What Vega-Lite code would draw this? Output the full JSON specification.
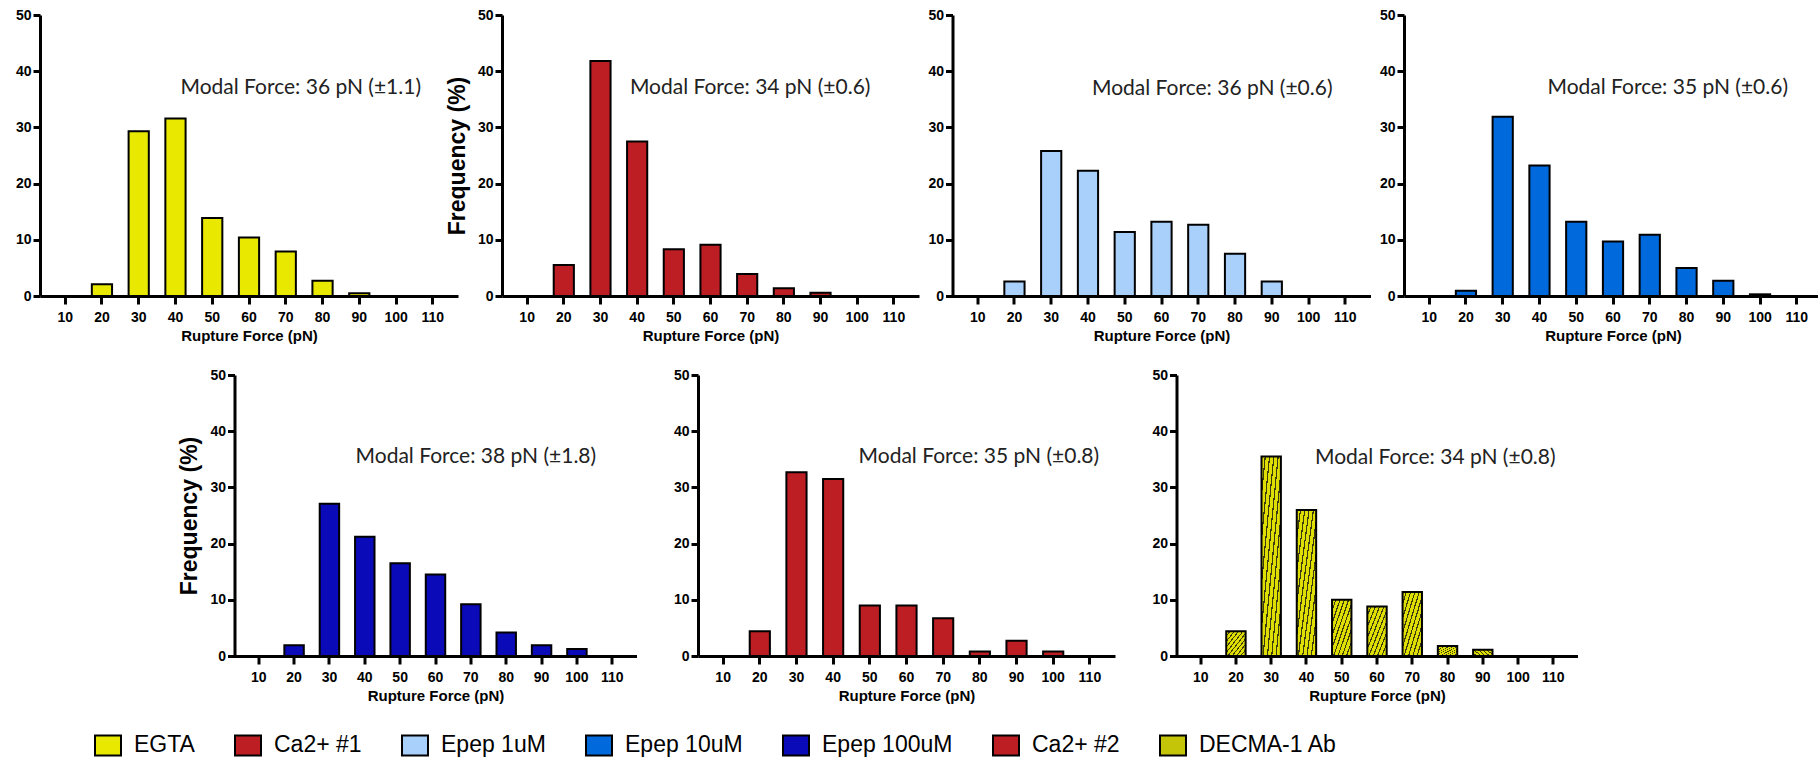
{
  "$schema": "https://vega.github.io/schema/vega-lite/v6.json",
  "padding": {"left": 15, "top": 8, "right": 0, "bottom": 0},
  "background": "white",
  "config": {
    "view": {"stroke": null},
    "axis": {"domainColor": "black", "domainWidth": 3, "tickColor": "black", "tickWidth": 3, "tickSize": 8, "labelFont": "Liberation Sans", "labelFontWeight": "bold", "labelFontSize": 14, "labelColor": "black", "labelPadding": 6, "titleFont": "Liberation Sans", "titleFontWeight": "bold", "titleFontSize": 15, "titleColor": "black", "grid": false},
    "axisX": {"labelAngle": 0, "titlePadding": 4},
    "axisY": {"titleFontSize": 23, "titlePadding": 8, "tickSize": 7, "labelPadding": 2}
  },
  "datasets": {
    "hist": [
      {"series": "EGTA", "force": 20, "freq": 2.1}, {"series": "EGTA", "force": 30, "freq": 29.3}, {"series": "EGTA", "force": 40, "freq": 31.6}, {"series": "EGTA", "force": 50, "freq": 13.9}, {"series": "EGTA", "force": 60, "freq": 10.4}, {"series": "EGTA", "force": 70, "freq": 7.9}, {"series": "EGTA", "force": 80, "freq": 2.7}, {"series": "EGTA", "force": 90, "freq": 0.5},
      {"series": "Ca2+ #1", "force": 20, "freq": 5.5}, {"series": "Ca2+ #1", "force": 30, "freq": 41.8}, {"series": "Ca2+ #1", "force": 40, "freq": 27.5}, {"series": "Ca2+ #1", "force": 50, "freq": 8.3}, {"series": "Ca2+ #1", "force": 60, "freq": 9.1}, {"series": "Ca2+ #1", "force": 70, "freq": 3.9}, {"series": "Ca2+ #1", "force": 80, "freq": 1.4}, {"series": "Ca2+ #1", "force": 90, "freq": 0.6},
      {"series": "Epep 1uM", "force": 20, "freq": 2.6}, {"series": "Epep 1uM", "force": 30, "freq": 25.8}, {"series": "Epep 1uM", "force": 40, "freq": 22.3}, {"series": "Epep 1uM", "force": 50, "freq": 11.4}, {"series": "Epep 1uM", "force": 60, "freq": 13.2}, {"series": "Epep 1uM", "force": 70, "freq": 12.7}, {"series": "Epep 1uM", "force": 80, "freq": 7.5}, {"series": "Epep 1uM", "force": 90, "freq": 2.6},
      {"series": "Epep 10uM", "force": 20, "freq": 0.95}, {"series": "Epep 10uM", "force": 30, "freq": 31.9}, {"series": "Epep 10uM", "force": 40, "freq": 23.2}, {"series": "Epep 10uM", "force": 50, "freq": 13.2}, {"series": "Epep 10uM", "force": 60, "freq": 9.7}, {"series": "Epep 10uM", "force": 70, "freq": 10.9}, {"series": "Epep 10uM", "force": 80, "freq": 5.0}, {"series": "Epep 10uM", "force": 90, "freq": 2.7}, {"series": "Epep 10uM", "force": 100, "freq": 0.3},
      {"series": "Epep 100uM", "force": 20, "freq": 1.9}, {"series": "Epep 100uM", "force": 30, "freq": 27.1}, {"series": "Epep 100uM", "force": 40, "freq": 21.2}, {"series": "Epep 100uM", "force": 50, "freq": 16.5}, {"series": "Epep 100uM", "force": 60, "freq": 14.5}, {"series": "Epep 100uM", "force": 70, "freq": 9.2}, {"series": "Epep 100uM", "force": 80, "freq": 4.2}, {"series": "Epep 100uM", "force": 90, "freq": 1.9}, {"series": "Epep 100uM", "force": 100, "freq": 1.25},
      {"series": "Ca2+ #2", "force": 20, "freq": 4.4}, {"series": "Ca2+ #2", "force": 30, "freq": 32.7}, {"series": "Ca2+ #2", "force": 40, "freq": 31.5}, {"series": "Ca2+ #2", "force": 50, "freq": 9.0}, {"series": "Ca2+ #2", "force": 60, "freq": 9.0}, {"series": "Ca2+ #2", "force": 70, "freq": 6.7}, {"series": "Ca2+ #2", "force": 80, "freq": 0.8}, {"series": "Ca2+ #2", "force": 90, "freq": 2.7}, {"series": "Ca2+ #2", "force": 100, "freq": 0.8},
      {"series": "DECMA-1 Ab", "force": 20, "freq": 4.4}, {"series": "DECMA-1 Ab", "force": 30, "freq": 35.5}, {"series": "DECMA-1 Ab", "force": 40, "freq": 26.0}, {"series": "DECMA-1 Ab", "force": 50, "freq": 10.0}, {"series": "DECMA-1 Ab", "force": 60, "freq": 8.8}, {"series": "DECMA-1 Ab", "force": 70, "freq": 11.4}, {"series": "DECMA-1 Ab", "force": 80, "freq": 1.8}, {"series": "DECMA-1 Ab", "force": 90, "freq": 1.1}
    ]
  },
  "data": {"name": "hist"},
  "bounds": "flush",
  "spacing": 360,
  "resolve": {"scale": {"fill": "shared", "x": "independent", "y": "independent"}, "legend": {"fill": "shared"}},
  "vconcat": [
    {
      "bounds": "flush",
      "spacing": 44,
      "resolve": {"scale": {"fill": "shared", "x": "independent", "y": "independent"}, "legend": {"fill": "shared"}},
      "hconcat": [
        {"width": 418, "height": 281, "layer": [
          {"transform": [{"filter": "datum.series === 'EGTA'"}], "mark": {"type": "bar", "stroke": "black", "strokeWidth": 2},
           "encoding": {
             "x": {"field": "force", "type": "ordinal", "scale": {"domain": [10, 20, 30, 40, 50, 60, 70, 80, 90, 100, 110], "paddingInner": 0.45, "paddingOuter": 0.41}, "axis": {"title": "Rupture Force (pN)"}},
             "y": {"field": "freq", "type": "quantitative", "scale": {"domain": [0, 50], "nice": false}, "axis": {"values": [0, 10, 20, 30, 40, 50], "title": null}},
             "fill": {"field": "series", "type": "nominal", "scale": {"domain": ["EGTA", "Ca2+ #1", "Epep 1uM", "Epep 10uM", "Epep 100uM", "Ca2+ #2", "DECMA-1 Ab"], "range": ["#e8e800", "#bc1e24", "#a8d0fa", "#0069dc", "#0a0ab8", "#bc1e24", "#c4c408"]},
               "legend": {"title": null, "orient": "none", "legendX": 54, "legendY": 716, "direction": "horizontal", "columns": 7, "symbolType": "M-1,-0.77H1V0.77H-1Z", "symbolSize": 676, "symbolStrokeColor": "black", "symbolStrokeWidth": 2, "symbolOpacity": 1, "labelFont": "Liberation Sans", "labelFontSize": 23, "labelColor": "black", "labelOffset": 12, "columnPadding": 36, "labelLimit": 400}}
           }},
          {"data": {"values": [{}]}, "mark": {"type": "text", "font": "Lato", "fontSize": 21, "baseline": "middle", "align": "center", "dx": 15, "color": "#222"},
           "encoding": {"x": {"datum": 70, "type": "ordinal"}, "y": {"datum": 37, "type": "quantitative"}, "text": {"value": "Modal Force: 36 pN (±1.1)"}}}
        ]},
        {
          "bounds": "flush",
          "spacing": 33.5,
          "resolve": {"scale": {"fill": "shared", "x": "independent", "y": "independent"}, "legend": {"fill": "shared"}},
          "hconcat": [
            {"width": 417, "height": 281, "layer": [
              {"transform": [{"filter": "datum.series === 'Ca2+ #1'"}], "mark": {"type": "bar", "stroke": "black", "strokeWidth": 2},
               "encoding": {
                 "x": {"field": "force", "type": "ordinal", "scale": {"domain": [10, 20, 30, 40, 50, 60, 70, 80, 90, 100, 110], "paddingInner": 0.45, "paddingOuter": 0.41}, "axis": {"title": "Rupture Force (pN)"}},
                 "y": {"field": "freq", "type": "quantitative", "scale": {"domain": [0, 50], "nice": false}, "axis": {"values": [0, 10, 20, 30, 40, 50], "title": "Frequency (%)"}},
                 "fill": {"field": "series", "type": "nominal"}
               }},
              {"data": {"values": [{}]}, "mark": {"type": "text", "font": "Lato", "fontSize": 21, "baseline": "middle", "align": "center", "dx": 3, "color": "#222"},
               "encoding": {"x": {"datum": 70, "type": "ordinal"}, "y": {"datum": 37, "type": "quantitative"}, "text": {"value": "Modal Force: 34 pN (±0.6)"}}}
            ]},
            {"width": 418, "height": 281, "layer": [
              {"transform": [{"filter": "datum.series === 'Epep 1uM'"}], "mark": {"type": "bar", "stroke": "black", "strokeWidth": 2},
               "encoding": {
                 "x": {"field": "force", "type": "ordinal", "scale": {"domain": [10, 20, 30, 40, 50, 60, 70, 80, 90, 100, 110], "paddingInner": 0.45, "paddingOuter": 0.41}, "axis": {"title": "Rupture Force (pN)"}},
                 "y": {"field": "freq", "type": "quantitative", "scale": {"domain": [0, 50], "nice": false}, "axis": {"values": [0, 10, 20, 30, 40, 50], "title": null}},
                 "fill": {"field": "series", "type": "nominal"}
               }},
              {"data": {"values": [{}]}, "mark": {"type": "text", "font": "Lato", "fontSize": 21, "baseline": "middle", "align": "center", "dx": 14, "color": "#222"},
               "encoding": {"x": {"datum": 70, "type": "ordinal"}, "y": {"datum": 36.9, "type": "quantitative"}, "text": {"value": "Modal Force: 36 pN (±0.6)"}}}
            ]},
            {"width": 418, "height": 281, "layer": [
              {"transform": [{"filter": "datum.series === 'Epep 10uM'"}], "mark": {"type": "bar", "stroke": "black", "strokeWidth": 2},
               "encoding": {
                 "x": {"field": "force", "type": "ordinal", "scale": {"domain": [10, 20, 30, 40, 50, 60, 70, 80, 90, 100, 110], "paddingInner": 0.45, "paddingOuter": 0.41}, "axis": {"title": "Rupture Force (pN)"}},
                 "y": {"field": "freq", "type": "quantitative", "scale": {"domain": [0, 50], "nice": false}, "axis": {"values": [0, 10, 20, 30, 40, 50], "title": null}},
                 "fill": {"field": "series", "type": "nominal"}
               }},
              {"data": {"values": [{}]}, "mark": {"type": "text", "font": "Lato", "fontSize": 21, "baseline": "middle", "align": "center", "dx": 18, "color": "#222"},
               "encoding": {"x": {"datum": 70, "type": "ordinal"}, "y": {"datum": 37, "type": "quantitative"}, "text": {"value": "Modal Force: 35 pN (±0.6)"}}}
            ]}
          ]
        }
      ]
    },
    {
      "bounds": "flush",
      "spacing": 61.5,
      "resolve": {"scale": {"fill": "shared", "x": "independent", "y": "independent"}, "legend": {"fill": "shared"}},
      "hconcat": [
        {"width": 133, "height": 281, "data": {"values": []}, "mark": "point"},
        {"width": 402, "height": 281, "layer": [
          {"transform": [{"filter": "datum.series === 'Epep 100uM'"}], "mark": {"type": "bar", "stroke": "black", "strokeWidth": 2},
           "encoding": {
             "x": {"field": "force", "type": "ordinal", "scale": {"domain": [10, 20, 30, 40, 50, 60, 70, 80, 90, 100, 110], "paddingInner": 0.45, "paddingOuter": 0.41}, "axis": {"title": "Rupture Force (pN)"}},
             "y": {"field": "freq", "type": "quantitative", "scale": {"domain": [0, 50], "nice": false}, "axis": {"values": [0, 10, 20, 30, 40, 50], "title": "Frequency (%)"}},
             "fill": {"field": "series", "type": "nominal"}
           }},
          {"data": {"values": [{}]}, "mark": {"type": "text", "font": "Lato", "fontSize": 21, "baseline": "middle", "align": "center", "dx": 5, "color": "#222"},
           "encoding": {"x": {"datum": 70, "type": "ordinal"}, "y": {"datum": 35.4, "type": "quantitative"}, "text": {"value": "Modal Force: 38 pN (±1.8)"}}}
        ]},
        {"width": 417, "height": 281, "layer": [
          {"transform": [{"filter": "datum.series === 'Ca2+ #2'"}], "mark": {"type": "bar", "stroke": "black", "strokeWidth": 2},
           "encoding": {
             "x": {"field": "force", "type": "ordinal", "scale": {"domain": [10, 20, 30, 40, 50, 60, 70, 80, 90, 100, 110], "paddingInner": 0.45, "paddingOuter": 0.41}, "axis": {"title": "Rupture Force (pN)"}},
             "y": {"field": "freq", "type": "quantitative", "scale": {"domain": [0, 50], "nice": false}, "axis": {"values": [0, 10, 20, 30, 40, 50], "title": null}},
             "fill": {"field": "series", "type": "nominal"}
           }},
          {"data": {"values": [{}]}, "mark": {"type": "text", "font": "Lato", "fontSize": 21, "baseline": "middle", "align": "center", "dx": -1, "color": "#222"},
           "encoding": {"x": {"datum": 80, "type": "ordinal"}, "y": {"datum": 35.4, "type": "quantitative"}, "text": {"value": "Modal Force: 35 pN (±0.8)"}}}
        ]},
        {"width": 401, "height": 281, "layer": [
          {"transform": [{"filter": "datum.series === 'DECMA-1 Ab'"}], "mark": {"type": "bar", "stroke": "black", "strokeWidth": 2, "fill": {"gradient": "linear", "x1": 0, "y1": 0, "x2": 1, "y2": 1, "stops": [{"offset": 0, "color": "#dede00"}, {"offset": 0.08, "color": "#dede00"}, {"offset": 0.08, "color": "#3c3c10"}, {"offset": 0.111, "color": "#3c3c10"}, {"offset": 0.111, "color": "#dede00"}, {"offset": 0.191, "color": "#dede00"}, {"offset": 0.191, "color": "#3c3c10"}, {"offset": 0.222, "color": "#3c3c10"}, {"offset": 0.222, "color": "#dede00"}, {"offset": 0.302, "color": "#dede00"}, {"offset": 0.302, "color": "#3c3c10"}, {"offset": 0.333, "color": "#3c3c10"}, {"offset": 0.333, "color": "#dede00"}, {"offset": 0.413, "color": "#dede00"}, {"offset": 0.413, "color": "#3c3c10"}, {"offset": 0.444, "color": "#3c3c10"}, {"offset": 0.444, "color": "#dede00"}, {"offset": 0.524, "color": "#dede00"}, {"offset": 0.524, "color": "#3c3c10"}, {"offset": 0.556, "color": "#3c3c10"}, {"offset": 0.556, "color": "#dede00"}, {"offset": 0.636, "color": "#dede00"}, {"offset": 0.636, "color": "#3c3c10"}, {"offset": 0.667, "color": "#3c3c10"}, {"offset": 0.667, "color": "#dede00"}, {"offset": 0.747, "color": "#dede00"}, {"offset": 0.747, "color": "#3c3c10"}, {"offset": 0.778, "color": "#3c3c10"}, {"offset": 0.778, "color": "#dede00"}, {"offset": 0.858, "color": "#dede00"}, {"offset": 0.858, "color": "#3c3c10"}, {"offset": 0.889, "color": "#3c3c10"}, {"offset": 0.889, "color": "#dede00"}, {"offset": 0.969, "color": "#dede00"}, {"offset": 0.969, "color": "#3c3c10"}, {"offset": 1, "color": "#3c3c10"}]}},
           "encoding": {
             "x": {"field": "force", "type": "ordinal", "scale": {"domain": [10, 20, 30, 40, 50, 60, 70, 80, 90, 100, 110], "paddingInner": 0.45, "paddingOuter": 0.41}, "axis": {"title": "Rupture Force (pN)"}},
             "y": {"field": "freq", "type": "quantitative", "scale": {"domain": [0, 50], "nice": false}, "axis": {"values": [0, 10, 20, 30, 40, 50], "title": null}}
           }},
          {"data": {"values": [{}]}, "mark": {"type": "text", "font": "Lato", "fontSize": 21, "baseline": "middle", "align": "center", "dx": 23, "color": "#222"},
           "encoding": {"x": {"datum": 70, "type": "ordinal"}, "y": {"datum": 35.3, "type": "quantitative"}, "text": {"value": "Modal Force: 34 pN (±0.8)"}}}
        ]}
      ]
    }
  ]
}
